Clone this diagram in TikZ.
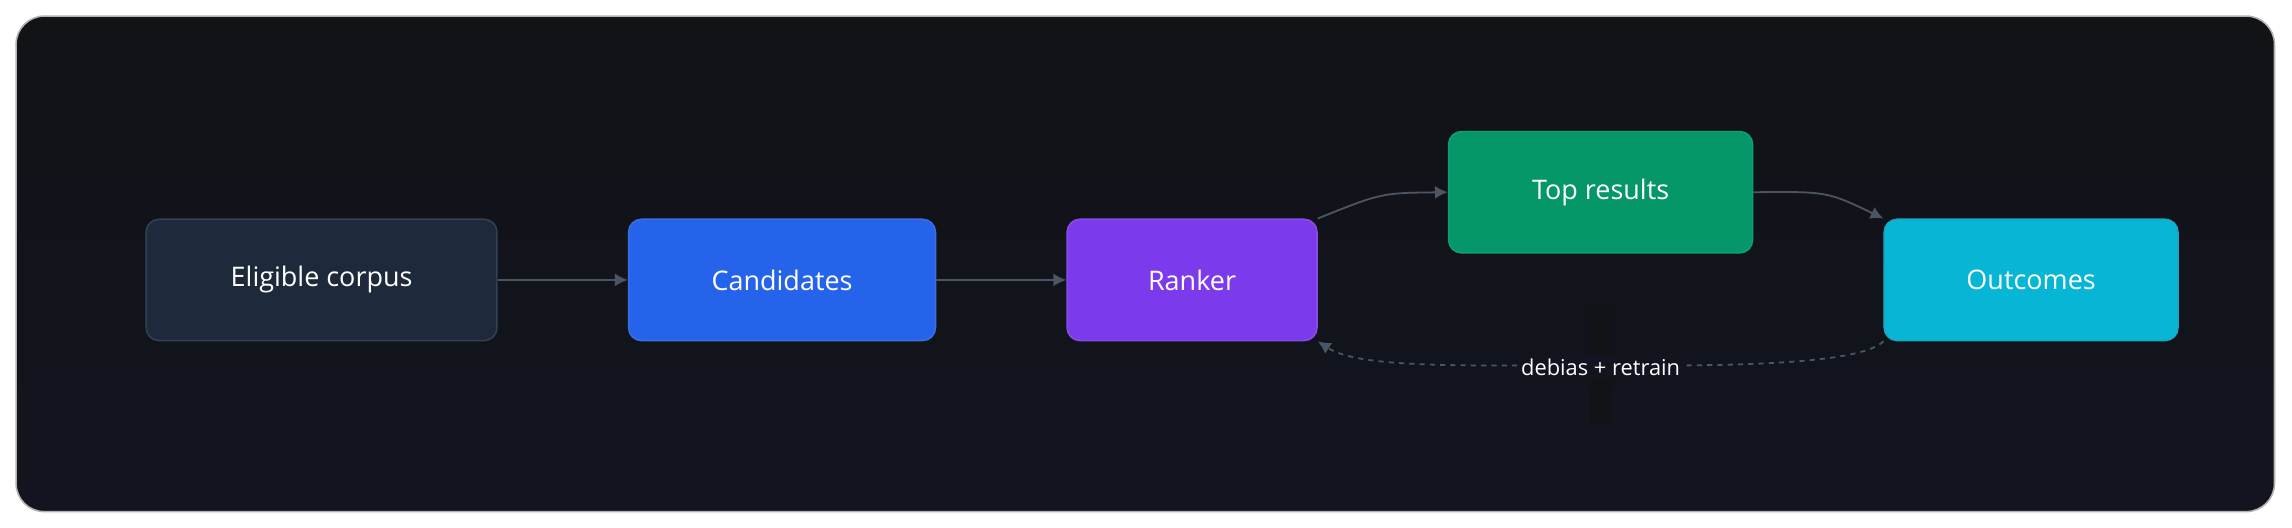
\documentclass[tikz,border=0pt]{standalone}
\usepackage{fontspec}
\setmainfont{Open Sans}
\usetikzlibrary{arrows.meta}
\definecolor{bgA}{HTML}{111317}
\definecolor{bgB}{HTML}{13141F}
\definecolor{edge}{HTML}{4B5563}
\definecolor{c1}{HTML}{1E293B}\definecolor{d1}{HTML}{334155}
\definecolor{c2}{HTML}{2563EB}\definecolor{d2}{HTML}{3B6FE0}
\definecolor{c3}{HTML}{7C3AED}\definecolor{d3}{HTML}{8B4BE8}
\definecolor{c4}{HTML}{059669}\definecolor{d4}{HTML}{10A070}
\definecolor{c5}{HTML}{06B6D4}\definecolor{d5}{HTML}{1AA8C4}
\begin{document}
\begin{tikzpicture}[x=0.02cm,y=-0.02cm,
  box/.style={rounded corners=5pt,minimum height=1.66cm,text=white,font=\fontsize{10.5}{12}\selectfont,line width=0.6pt},
  conn/.style={draw=edge,line width=0.7pt,-{Latex[length=5pt,width=5pt]}}]
\useasboundingbox (0,0) rectangle (1568,361);
\fill[white] (0,0) rectangle (1568,361);
\shade[top color=bgA,bottom color=bgB,rounded corners=11pt] (11,11) rectangle (1556,350);
\draw[gray!60,rounded corners=11pt,line width=0.6pt] (11,11) rectangle (1556,350);
\node[box,fill=c1,draw=d1,minimum width=4.8cm] (corpus) at (220,191.5) {Eligible corpus};
\node[box,fill=c2,draw=d2,minimum width=4.2cm] (cand) at (535,191.5) {Candidates};
\node[box,fill=c3,draw=d3,minimum width=3.42cm] (ranker) at (815.5,191.5) {Ranker};
\node[box,fill=c4,draw=d4,minimum width=4.16cm] (top) at (1095,131.5) {Top results};
\node[box,fill=c5,draw=d5,minimum width=4.02cm] (out) at (1389.5,191.5) {Outcomes};
\draw[conn] (corpus) -- (cand);
\draw[conn] (cand) -- (ranker);
\draw[conn] (ranker.north east) .. controls (945,132) .. (top.west);
\draw[conn] (top.east) .. controls (1250,131) .. (out.north west);
\fill[bgA] (1088,212) rectangle (1102,290);
\draw[conn,dash pattern=on 2pt off 2pt] (out.south west) .. controls (1270,252) and (1150,250) .. (1095,250) .. controls (1000,250) and (930,252) .. (ranker.south east);
\node[fill=bgB,text=white,inner sep=1pt,font=\fontsize{8.5}{10}\selectfont] (lbl) at (1095,251) {debias + retrain};
\end{tikzpicture}
\end{document}
